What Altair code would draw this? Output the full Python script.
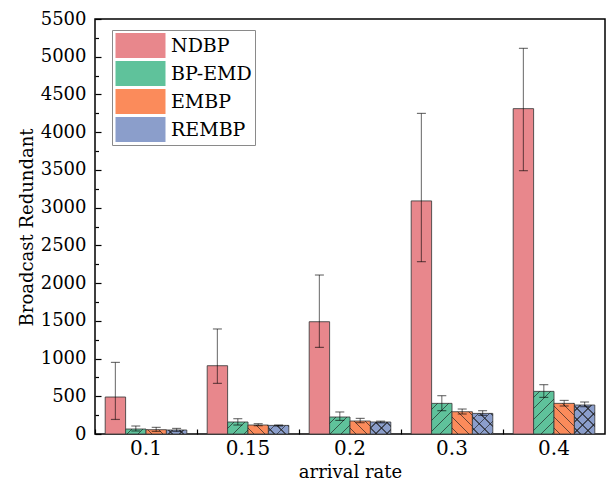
import altair as alt
import pandas as pd

rates = ["0.1", "0.15", "0.2", "0.3", "0.4"]
series = ["NDBP", "BP-EMD", "EMBP", "REMBP"]

ndbp = [490, 905, 1488, 3089, 4312]
ndbp_lo = [193, 671, 1148, 2284, 3490]
ndbp_hi = [949, 1392, 2107, 4249, 5111]

bpemd = [66, 159, 225, 406, 565]
bpemd_lo = [40, 119, 180, 309, 485]
bpemd_hi = [106, 203, 292, 508, 654]

embp = [57, 119, 172, 295, 406]
embp_lo = [34, 110, 150, 265, 371]
embp_hi = [88, 137, 207, 331, 445]

rembp = [53, 114, 159, 273, 384]
rembp_lo = [34, 106, 148, 247, 362]
rembp_hi = [74, 119, 170, 309, 424]

colors = ["#E8878C", "#5FC29B", "#FB8B5B", "#8B9ECB"]
y_major = list(range(0, 5501, 500))
y_minor = list(range(250, 5500, 500))

vals = [ndbp, bpemd, embp, rembp]
los = [ndbp_lo, bpemd_lo, embp_lo, rembp_lo]
his = [ndbp_hi, bpemd_hi, embp_hi, rembp_hi]
rows = []
for i, r in enumerate(rates):
    for j, s in enumerate(series):
        rows.append({"rate": r, "series": s, "val": vals[j][i], "lo": los[j][i], "hi": his[j][i]})
df = pd.DataFrame(rows)

W_PLOT, H_PLOT = 510, 415
FONT = "DejaVu Serif"

# ---- hatch helpers for bars (gradient stripes) ----
PERIOD, LW, L = 11.0, 1.3, 480.0
LINE = "rgba(30,30,30,0.66)"
CLEAR = "rgba(0,0,0,0)"


def js_stops(base, line):
    parts = ["{offset:0,color:'%s'}" % base]
    k = 0
    while True:
        a = (k + 0.5) * PERIOD / L
        b = ((k + 0.5) * PERIOD + LW) / L
        if b >= 1:
            break
        parts += ["{offset:%.5f,color:'%s'}" % (a, base), "{offset:%.5f,color:'%s'}" % (a, line),
                  "{offset:%.5f,color:'%s'}" % (b, line), "{offset:%.5f,color:'%s'}" % (b, base)]
        k += 1
    parts.append("{offset:1,color:'%s'}" % base)
    return "[" + ",".join(parts) + "]"


Wx = "bandwidth('xOffset')"
Hx = "(scale('y',0)-scale('y',datum.val))"
Dx = "(%s*%s+%s*%s)" % (Wx, Wx, Hx, Hx)
clear_stops = js_stops(CLEAR, LINE)
slash_expr = "{gradient:'linear',x1:0,y1:0,x2:%g*%s/%s,y2:%g*%s/%s,stops:%s}" % (L, Wx, Dx, L, Hx, Dx, clear_stops)
back_expr = "{gradient:'linear',x1:0,y1:1,x2:%g*%s/%s,y2:1-%g*%s/%s,stops:%s}" % (L, Wx, Dx, L, Hx, Dx, clear_stops)


# ---- legend swatch shapes: rectangle plus hatch sub-paths (unit coords) ----
def hatch_path(kinds, step=0.4):
    p = "M-1,-0.5L1,-0.5L1,0.5L-1,0.5Z"
    for kind in kinds:
        c = -1.5 + step / 2
        while c < 1.5:
            if kind == "/":   # x + y = c
                xa, ya, xb, yb = c - 0.5, 0.5, c + 0.5, -0.5
                if xa < -1:
                    xa, ya = -1, c + 1
                if xb > 1:
                    xb, yb = 1, c - 1
            else:             # x - y = c
                xa, ya, xb, yb = c - 0.5, -0.5, c + 0.5, 0.5
                if xa < -1:
                    xa, ya = -1, -1 - c
                if xb > 1:
                    xb, yb = 1, 1 - c
            p += "M%.2f,%.2fL%.2f,%.2f" % (xa + 0, ya + 0, xb + 0, yb + 0)
            c += step
    return p.replace("-0.00", "0.00")


RECT = "M-1,-0.5H1V0.5H-1Z"
legend_shapes = ["M-1,-0.5L1,-0.5L1,0.5L-1,0.5Z", hatch_path(["/"]), hatch_path(["\\"]),
                 hatch_path(["/", "\\"])]

xscale = alt.Scale(domain=rates, paddingInner=0, paddingOuter=0)
oscale = alt.Scale(domain=series, paddingInner=0, paddingOuter=0.5)
yscale = alt.Scale(domain=[0, 5500], nice=False, zero=True)


def X(axis):
    return alt.X("rate:N", sort=rates, scale=xscale, axis=axis)


XO = alt.XOffset("series:N", sort=series, scale=oscale)

leg_kw = dict(title=None, orient="none", legendX=17, legendY=11,
              symbolType=RECT, symbolSize=2500, clipHeight=25,
              rowPadding=3, labelFont=FONT, labelFontSize=19, labelOffset=5,
              padding=3, strokeColor="#8a8a8a", fillColor="white",
              symbolStrokeColor="#3a3a3a", symbolStrokeWidth=0.9, labelColor="black",
              symbolOpacity=1, labelLimit=0)

base = alt.Chart(df)

bars = base.mark_bar(stroke="#3c3c3c", strokeWidth=1, strokeOpacity=0.85).encode(
    x=X(alt.Axis(orient="bottom", title="arrival rate", labelFontSize=20, labelAngle=0,
                 ticks=False, tickSize=0, domain=False, labelPadding=4,
                 titleFontSize=18, titleY=43, titleBaseline="alphabetic")),
    xOffset=XO,
    y=alt.Y("val:Q", scale=yscale,
            axis=alt.Axis(orient="left", values=y_major, format="d", title="Broadcast Redundant",
                          labelFontSize=18, ticks=False, tickSize=0, domain=False,
                          labelPadding=9, titleFontSize=18, titleX=-68, titleY=208,
                          titleAngle=270, titleAlign="center", titleBaseline="middle")),
    fill=alt.Fill("series:N", scale=alt.Scale(domain=series, range=colors),
                  legend=alt.Legend(zindex=0, **leg_kw)),
)

hatch1 = base.mark_bar(fill={"expr": slash_expr}, strokeWidth=0).encode(
    x=X(None), xOffset=XO,
    y=alt.Y("val:Q", scale=yscale,
            axis=alt.Axis(orient="right", offset=-W_PLOT, values=y_major, labels=False,
                          domain=False, ticks=True, tickSize=6, tickWidth=1.2,
                          tickColor="black", title=None, grid=False)),
).transform_filter(alt.FieldOneOfPredicate(field="series", oneOf=["BP-EMD", "REMBP"]))

hatch2 = base.mark_bar(fill={"expr": back_expr}, strokeWidth=0).encode(
    x=X(None), xOffset=XO,
    y=alt.Y("val:Q", scale=yscale,
            axis=alt.Axis(orient="right", offset=-W_PLOT, values=y_minor, labels=False,
                          domain=False, ticks=True, tickSize=3.5, tickWidth=1.2,
                          tickColor="black", title=None, grid=False)),
).transform_filter(alt.FieldOneOfPredicate(field="series", oneOf=["EMBP", "REMBP"]))

err = base.mark_rule(color="black", opacity=0.5, strokeWidth=1.2).encode(
    x=X(alt.Axis(orient="top", offset=-H_PLOT, bandPosition=0, labels=False, domain=False,
                 ticks=True, tickSize=5, tickWidth=1.2, tickColor="black", title=None,
                 grid=False)),
    xOffset=XO,
    y=alt.Y("lo:Q", scale=yscale, axis=None),
    y2="hi:Q",
)

cap_hi = base.mark_tick(color="black", opacity=0.55, size=9, thickness=1.2,
                        orient="horizontal").encode(
    x=X(None), xOffset=XO, y=alt.Y("hi:Q", scale=yscale, axis=None))
cap_lo = base.mark_tick(color="black", opacity=0.55, size=9, thickness=1.2,
                        orient="horizontal").encode(
    x=X(None), xOffset=XO, y=alt.Y("lo:Q", scale=yscale, axis=None))

# zero-size points whose legend (drawn above) shows colour + hatched swatch shape
leg2 = alt.Legend(zindex=1, **leg_kw)
legend_layer = base.mark_point(filled=True, size=0, stroke="#3a3a3a", strokeWidth=0.9).encode(
    x=X(None), xOffset=XO, y=alt.Y("val:Q", scale=yscale, axis=None),
    color=alt.Color("series:N", scale=alt.Scale(domain=series, range=colors), legend=leg2),
    shape=alt.Shape("series:N", scale=alt.Scale(domain=series, range=legend_shapes), legend=leg2),
)

chart = alt.layer(bars, hatch1, hatch2, err, cap_hi, cap_lo, legend_layer).resolve_axis(
    x="independent", y="independent"
).properties(
    width=W_PLOT, height=H_PLOT,
    autosize=alt.AutoSizeParams(type="none"),
    padding={"left": 95, "top": 19, "right": 8, "bottom": 48},
).configure_view(
    stroke="black", strokeWidth=1.5
).configure_axis(
    labelFont=FONT, titleFont=FONT, labelColor="black", titleColor="black",
    grid=False, titleFontWeight="normal"
)

chart.save("out.html", embed_options={"renderer": "svg", "actions": False})
